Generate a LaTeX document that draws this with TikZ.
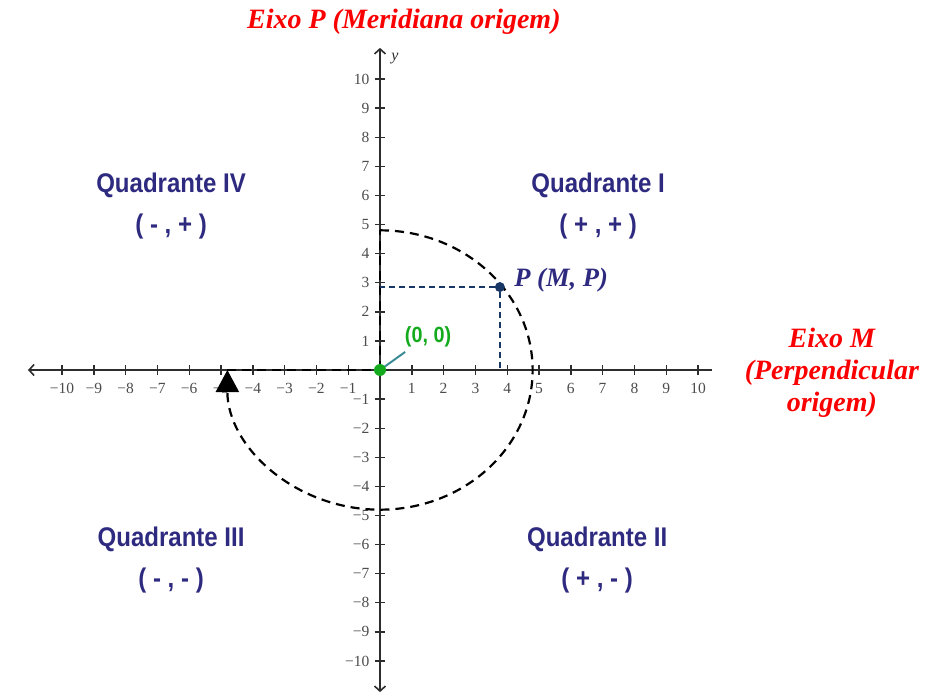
\documentclass[tikz,border=0pt]{standalone}
\usepackage{fontspec}
\setmainfont{Liberation Serif}
\newfontfamily\quadfont{Liberation Sans}
\usetikzlibrary{arrows.meta}
\definecolor{eixored}{RGB}{250,0,0}
\definecolor{quadblue}{RGB}{46,42,128}
\definecolor{pblue}{RGB}{25,55,100}
\definecolor{origgreen}{RGB}{20,170,30}
\definecolor{tealln}{RGB}{60,140,150}
\definecolor{axisgray}{RGB}{45,45,45}

\begin{document}
\begin{tikzpicture}[
  x=31.8pt, y=29.1pt,
  axis/.style={line width=1.6pt, axisgray, >={Straight Barb[length=5pt,width=11pt]}},
  tick/.style={line width=1.4pt, axisgray},
  ticklbl/.style={font=\fontsize{15.5}{15.5}\selectfont, text=axisgray!85, inner sep=1pt},
  quad/.style={font=\quadfont\bfseries\fontsize{27}{41}\selectfont, text=quadblue, align=center, xscale=0.89},
  eixo/.style={font=\bfseries\itshape\fontsize{28}{32}\selectfont, text=eixored, align=center},
  circ/.style={line width=2.2pt, dash pattern=on 9pt off 6pt},
  proj/.style={line width=1.8pt, pblue, dash pattern=on 6pt off 4pt},
  dot/.style={circle, inner sep=0pt},
]
  \useasboundingbox (-11.95,-11.168) rectangle (17.736,12.715);

  % Axes
  \coordinate (O) at (0,0);
  \coordinate (xl) at (-11.07,0);
  \coordinate (xr) at (10.44,0);
  \coordinate (yt) at (0,11.07);
  \coordinate (yb) at (0,-11.07);
  \draw[axis, ->] (xr) -- (xl);
  \draw[axis, <->] (yb) -- (yt);
  \node[font=\itshape\fontsize{16}{16}\selectfont, text=axisgray] (ylbl) at (0.47,10.7) {y};

  % Ticks and numbers
  \foreach \k in {1,...,10} {
    \draw[tick] (\k,-0.17) -- (\k,0.17);
    \draw[tick] (-\k,-0.17) -- (-\k,0.17);
    \draw[tick] (-0.16,\k) -- (0.16,\k);
    \draw[tick] (-0.16,-\k) -- (0.16,-\k);
    \node[ticklbl] (xp\k) at (\k,-0.62) {\k};
    \node[ticklbl] (xn\k) at (-\k,-0.62) {−\k};
    \node[ticklbl, anchor=east] (yp\k) at (-0.3,\k) {\k};
    \node[ticklbl, anchor=east] (yn\k) at (-0.3,-\k) {−\k};
  }

  % Dashed turn round the origin
  \coordinate (top) at (0,4.8);
  \coordinate (lft) at (-4.8,0);
  \draw[circ] (O) -- (top);
  \draw[circ, -{Triangle[length=22pt,width=23pt]}]
    (top) arc[start angle=90, end angle=-180, radius=4.8];
  \draw[circ] (lft) -- (O);

  % Point P and its projections
  \node[dot, fill=pblue, minimum size=10pt] (P) at (3.77,2.85) {};
  \coordinate (Py) at (0,2.85);
  \coordinate (Px) at (3.77,0);
  \draw[proj] (P) -- (Py);
  \draw[proj] (P) -- (Px);
  \node[font=\bfseries\itshape\fontsize{26.5}{26.5}\selectfont, text=quadblue, anchor=west, inner sep=0pt]
    (lblP) at (4.22,3.08) {P (M, P)};

  % Origin
  \coordinate (tl) at (0.79,0.62);
  \draw[tealln, line width=2pt] (O) -- (tl);
  \node[dot, fill=origgreen, minimum size=12pt] (orig) at (O) {};
  \node[font=\quadfont\bfseries\fontsize{22}{22}\selectfont, text=origgreen, xscale=0.9] (lbl0) at (1.51,1.13) {(0, 0)};

  % Axis names
  \node[eixo] (eixoP) at (0.75,11.95) {Eixo P (Meridiana origem)};
  \node[eixo] (eixoM) at (14.21,-0.1) {Eixo M\\(Perpendicular\\origem)};

  % Quadrants
  \node[quad] (q4) at (-6.57,5.64) {Quadrante IV\\( - , + )};
  \node[quad] (q1) at (6.86,5.64) {Quadrante I\\( + , + )};
  \node[quad] (q3) at (-6.57,-6.53) {Quadrante III\\( - , - )};
  \node[quad] (q2) at (6.83,-6.53) {Quadrante II\\( + , - )};
\end{tikzpicture}
\end{document}
